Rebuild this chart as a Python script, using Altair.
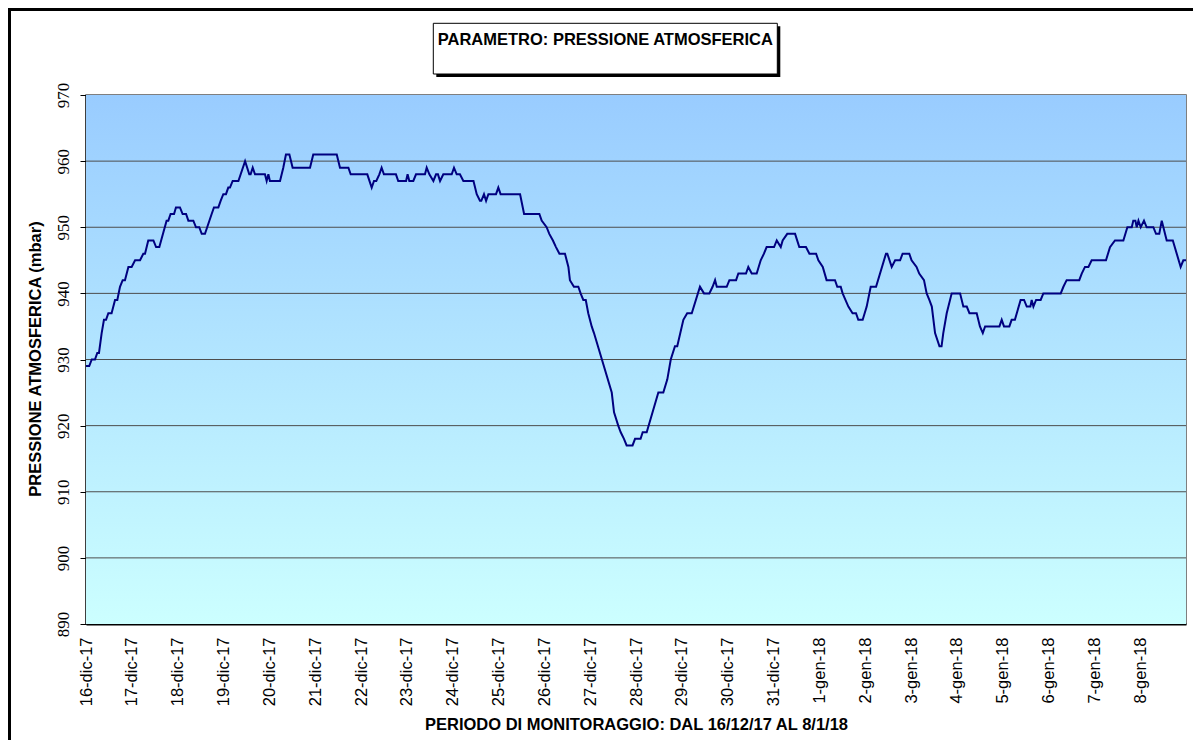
import json
import altair as alt
import pandas as pd

# Hours elapsed since 16-dic-17 00:00 and pressure (mbar) read at each vertex of the trace
HOURS = [
    0, 1.7, 3.0, 4.7, 5.9, 6.8, 8.2, 9.4, 10.5, 11.7, 13.4, 15.2, 16.4, 17.8, 19.2, 20.4,
    22.2, 23.9, 25.7, 28.3, 30.0, 30.9, 32.6, 35.3, 36.7, 38.4, 42.2, 43.1, 44.3, 46.1,
    47.1, 49.2, 50.6, 52.4, 53.6, 56.2, 57.6, 59.3, 60.6, 62.3, 65.8, 67.0, 69.3, 70.5,
    71.9, 73.3, 74.5, 75.4, 76.8, 79.8, 83.3, 85.5, 86.2, 87.3, 88.5, 93.7, 94.6, 95.5,
    96.3, 101.6, 103.3, 104.7, 106.5, 108.2, 117.3, 119.0, 131.3, 133.0, 137.4, 138.6,
    147.3, 149.6, 150.8, 152.0, 153.6, 154.8, 156.0, 162.3, 163.5, 167.6, 168.4, 169.3,
    171.4, 172.8, 177.5, 178.4, 179.8, 181.9, 183.3, 184.3, 185.4, 187.1, 191.5, 192.7,
    194.1, 195.8, 197.6, 202.9, 204.6, 206.3, 207.0, 208.4, 209.5, 210.7, 214.7, 215.9,
    217.1, 227.3, 229.4, 237.4, 238.6, 241.2, 242.6, 244.5, 246.1, 247.9, 250.8, 252.6,
    253.4, 255.5, 257.8, 259.0, 260.4, 261.7, 263.0, 264.8, 266.0, 275.3, 276.5, 278.7,
    280.0, 281.7, 283.1, 286.2, 287.5, 290.4, 291.5, 293.6, 299.7, 302.3, 304.4, 306.2,
    308.4, 309.6, 312.8, 314.8, 317.2, 321.5, 323.6, 326.4, 328.1, 329.4, 330.3, 335.5,
    336.9, 340.4, 341.6, 345.6, 346.8, 348.6, 351.2, 353.3, 355.0, 356.4, 360.3, 361.7,
    363.8, 364.8, 367.2, 371.3, 373.5, 377.0, 378.8, 382.3, 383.5, 385.8, 387.8, 392.2,
    393.4, 395.2, 396.2, 399.2, 401.4, 403.2, 404.4, 406.7, 408.8, 410.9, 413.7, 418.9,
    419.6, 421.9, 423.7, 426.3, 427.6, 431.1, 432.3, 434.9, 436.3, 438.8, 440.2, 441.6,
    442.9, 444.6, 446.9, 448.0, 448.9, 450.7, 453.3, 457.7, 459.4, 461.2, 462.6, 466.4,
    468.1, 469.6, 470.8, 478.3, 479.5, 480.7, 483.5, 484.7, 486.4, 489.4, 491.2, 492.6,
    494.5, 495.2, 496.1, 497.5, 499.9, 501.3, 510.4, 511.8, 513.5, 520.1, 521.4, 523.1,
    524.9, 526.6, 534.1, 536.2, 538.8, 543.2, 545.3, 547.6, 548.4, 549.5, 550.2, 551.1,
    552.3, 554.0, 555.4, 558.9, 560.3, 562.0, 563.3, 565.9, 569.1, 573.2, 574.6, 576.0,
]
PRESSURE = [
    929, 929, 930, 930, 931, 931, 934, 936, 936, 937, 937, 939, 939, 941, 942, 942,
    944, 944, 945, 945, 946, 946, 948, 948, 947, 947, 951, 951, 952, 952,
    953, 953, 952, 952, 951, 951, 950, 950, 949, 949, 952, 953, 953, 954,
    955, 955, 956, 956, 957, 957, 960, 958, 958, 959, 958, 958, 957, 958,
    957, 957, 959, 961, 961, 959, 959, 961, 961, 959, 959, 958,
    958, 956, 957, 957, 958, 959, 958, 958, 957, 957, 958, 957,
    957, 958, 958, 959, 958, 957, 958, 958, 957, 958, 958, 959,
    958, 958, 957, 957, 955, 954, 954, 955, 954, 955, 955, 956,
    955, 955, 952, 952, 951, 950, 949, 948, 947, 946, 946, 944,
    942, 941, 941, 940, 939, 939, 937, 935, 934, 925, 922, 920,
    919, 918, 917, 917, 918, 918, 919, 919, 925, 925, 927, 930,
    932, 932, 936, 937, 937, 941, 940, 940, 941, 942, 941, 941,
    942, 942, 943, 943, 944, 943, 943, 945, 946, 947, 947, 948,
    947, 948, 949, 949, 947, 947, 946, 946, 945, 944, 942, 942,
    941, 941, 940, 938, 937, 937, 936, 936, 938, 941, 941, 946,
    946, 944, 945, 945, 946, 946, 945, 944, 943, 942, 940, 939,
    938, 934, 932, 932, 934, 937, 940, 940, 938, 938, 937, 937,
    935, 934, 935, 935, 936, 935, 935, 936, 936, 939, 939, 938,
    938, 939, 938, 939, 939, 940, 940, 941, 942, 942, 943, 944,
    944, 945, 945, 947, 948, 948, 950, 950, 951, 951, 950, 951,
    950, 951, 950, 950, 949, 949, 951, 948, 948, 944, 945, 945,
]

TICK_HOURS = [24 * d for d in range(24)]
TICK_LABELS = (
    [f"{d}-dic-17" for d in range(16, 32)] + [f"{d}-gen-18" for d in range(1, 9)]
)
Y_TICKS = [890, 900, 910, 920, 930, 940, 950, 960, 970]

TITLE = "PARAMETRO: PRESSIONE ATMOSFERICA"
X_TITLE = "PERIODO DI MONITORAGGIO: DAL 16/12/17 AL 8/1/18"
Y_TITLE = "PRESSIONE ATMOSFERICA (mbar)"

W, H = 1100, 529
FONT = "Liberation Sans"

df = pd.DataFrame({"ore": HOURS, "pressione": PRESSURE})
grid_df = pd.DataFrame({"pressione": Y_TICKS[1:-1]})

label_expr = json.dumps(TICK_LABELS) + "[round(datum.value / 24)]"

x_enc = alt.X(
    "ore:Q",
    scale=alt.Scale(domain=[0, 576], nice=False, zero=False),
    axis=alt.Axis(
        values=TICK_HOURS,
        labelExpr=label_expr,
        labelAngle=270,
        labelAlign="right",
        labelBaseline="middle",
        labelFontSize=16.5,
        labelPadding=13,
        labelOverlap=False,
        labelFlush=False,
        labelBound=False,
        ticks=False,
        tickSize=0,
        grid=False,
        domainColor="#000000",
        domainWidth=2,
        title=X_TITLE,
        titleFontSize=16.5,
        titleFontWeight="bold",
        titleX=550,
        titleY=105.3,
        titleAlign="center",
        titleBaseline="alphabetic",
    ),
)
y_enc = alt.Y(
    "pressione:Q",
    scale=alt.Scale(domain=[890, 970], nice=False, zero=False),
    axis=alt.Axis(
        values=Y_TICKS,
        labelAngle=270,
        labelAlign="center",
        labelBaseline="alphabetic",
        labelFont="Liberation Sans Narrow",
        labelFontSize=17,
        labelPadding=12,
        labelOverlap=False,
        labelFlush=False,
        tickSize=6,
        tickColor="#000000",
        tickWidth=1,
        grid=False,
        domainColor="#000000",
        domainWidth=2,
        title=Y_TITLE,
        titleFontSize=16.5,
        titleFontWeight="bold",
        titleAngle=270,
        titleX=-46,
        titleY=H / 2 - 1,
        titleAlign="center",
        titleBaseline="alphabetic",
    ),
)

one = alt.Data(values=[{}])

gradient = alt.LinearGradient(
    gradient="linear",
    stops=[
        alt.GradientStop(offset=0, color="#99CCFF"),
        alt.GradientStop(offset=1, color="#CCFFFF"),
    ],
    x1=0, x2=0, y1=0, y2=1,
)

plot_bg = alt.Chart(one).mark_rect(color=gradient).encode(
    x=alt.value(0), x2=alt.value(W), y=alt.value(0), y2=alt.value(H)
)

grid = alt.Chart(grid_df).mark_rule(color="#4d4d4d", strokeWidth=1).encode(y=y_enc)

line = alt.Chart(df).mark_line(color="#000080", strokeWidth=2).encode(x=x_enc, y=y_enc)

border_top = alt.Chart(one).mark_rule(color="#000000", strokeWidth=3).encode(
    x=alt.value(-78), x2=alt.value(1107), y=alt.value(-85.5)
)
border_left = alt.Chart(one).mark_rule(color="#000000", strokeWidth=3).encode(
    x=alt.value(-76.5), y=alt.value(-87), y2=alt.value(645)
)
box_shadow = alt.Chart(one).mark_rect(color="#000000").encode(
    x=alt.value(350.3), x2=alt.value(694.3), y=alt.value(-68.7), y2=alt.value(-18)
)
box = alt.Chart(one).mark_rect(fill="#ffffff", stroke="#000000", strokeWidth=1).encode(
    x=alt.value(347.3), x2=alt.value(691.3), y=alt.value(-71.7), y2=alt.value(-21)
)
box_text = alt.Chart(one).mark_text(
    text=TITLE, align="center", baseline="alphabetic", fontSize=16.5,
    fontWeight="bold", color="#000000", font=FONT,
).encode(x=alt.value(519.3), y=alt.value(-50))

chart = (
    alt.layer(plot_bg, grid, line, border_top, border_left, box_shadow, box, box_text)
    .properties(
        width=W,
        height=H,
        autosize=alt.AutoSizeParams(type="none"),
        padding={"left": 78, "top": 87, "right": 7, "bottom": 116},
        background="#ffffff",
    )
    .configure(font=FONT)
    .configure_view(stroke="#555555", strokeWidth=1.5)
    .configure_axis(labelColor="#000000", titleColor="#000000", titleFont=FONT)
)

chart.save("out.html", embed_options={"renderer": "svg", "actions": False})
